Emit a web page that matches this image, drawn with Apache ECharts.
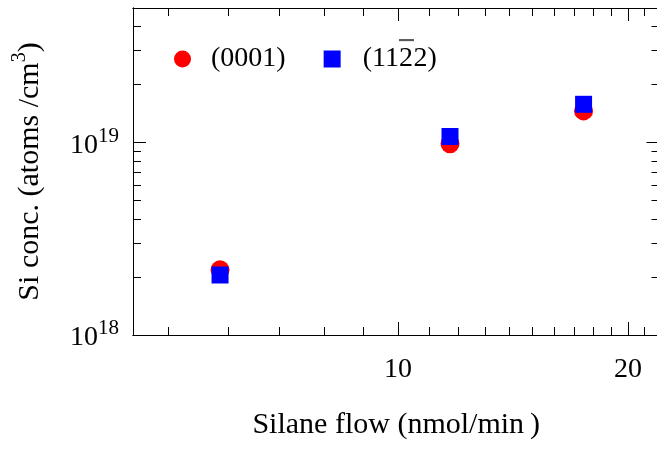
<!DOCTYPE html>
<html><head><meta charset="utf-8">
<script src="https://cdn.jsdelivr.net/npm/echarts@6/dist/echarts.min.js"></script>
<style>html,body{margin:0;padding:0;background:#fff}#c{width:657px;height:453px}</style>
</head><body><div id="c"></div>
<script>
// ---- data ----
const seriesNames = ['(0001)', '(112\u03052)'];
const flow0001 = [5.85, 11.7, 17.5];
const conc0001 = [2.18e18, 9.85e18, 1.46e19];
const flow1122 = [5.85, 11.7, 17.5];
const conc1122 = [2.05e18, 1.075e19, 1.58e19];
const xRange = [4.5, 22];
const yRange = [1e18, 5e19];
const xMajorTicks = [10, 20];
const xMinorTicks = [5, 6, 7, 8, 9, 11, 12, 13, 14, 15, 16, 17, 18, 19, 21];
const yMajorTicks = [1e18, 1e19];
const yMinorTicks = [2e18, 3e18, 4e18, 5e18, 6e18, 7e18, 8e18, 9e18, 2e19, 3e19, 4e19];
const xTitle = 'Silane flow (nmol/min\u2009)';
const yTitleMain = 'Si conc. (atoms /cm';
const yTitleSup = '3';

// ---- chart ----
const L = Math.log10;
const FONT = 'Liberation Serif';
const chart = echarts.init(document.getElementById('c'), null, {renderer: 'canvas'});

// overline decoration used for the Miller-Bravais bar (combining U+0305 in the names)
const BAR_PAD = 12;
const barCanvas = document.createElement('canvas');
barCanvas.width = 16; barCanvas.height = 57;
(function () {
  const g = barCanvas.getContext('2d');
  g.fillStyle = '#000';
  g.fillRect(0, 7, 16, 1.5);
})();

function auxX(pos, ticks, len, withLabels) {
  const a = {
    type: 'value', gridIndex: 0, position: pos,
    min: L(xRange[0]), max: L(xRange[1]),
    axisLine: {show: true, onZero: false, lineStyle: {color: '#000', width: 1}},
    axisTick: {show: true, inside: true, length: len, customValues: ticks.map(L), lineStyle: {color: '#000', width: 1}},
    axisLabel: {show: false},
    splitLine: {show: false}
  };
  if (withLabels) {
    a.axisLabel = {show: true, customValues: ticks.map(L), margin: 21,
      formatter: v => String(Math.round(Math.pow(10, v))),
      fontFamily: FONT, fontSize: 28, color: '#000'};
    a.name = xTitle;
    a.nameLocation = 'middle';
    a.nameGap = 75;
    a.nameTextStyle = {fontFamily: FONT, fontSize: 30, color: '#000'};
  }
  return a;
}
function auxY(pos, ticks, len, withLabels) {
  const a = {
    type: 'value', gridIndex: 0, position: pos,
    min: L(yRange[0]), max: L(yRange[1]),
    axisLine: {show: true, onZero: false, lineStyle: {color: '#000', width: 1}},
    axisTick: {show: true, inside: true, length: len, customValues: ticks.map(L), lineStyle: {color: '#000', width: 1}},
    axisLabel: {show: false},
    splitLine: {show: false}
  };
  if (withLabels) {
    a.axisLabel = {show: true, customValues: ticks.map(L), margin: 14,
      formatter: v => '{b|10}{s|' + Math.round(v) + '}',
      rich: {
        b: {fontFamily: FONT, fontSize: 28, color: '#000', lineHeight: 34, verticalAlign: 'bottom'},
        s: {fontFamily: FONT, fontSize: 21, color: '#000', lineHeight: 20, verticalAlign: 'top'}
      }};
    a.name = '{n|' + yTitleMain + '}{s|' + yTitleSup + '}{n|)}';
    a.nameLocation = 'middle';
    a.nameGap = 88;
    a.nameTextStyle = {rich: {
      n: {fontFamily: FONT, fontSize: 30, color: '#000', lineHeight: 35, verticalAlign: 'bottom'},
      s: {fontFamily: FONT, fontSize: 20, color: '#000', lineHeight: 20, verticalAlign: 'top'}
    }};
  }
  return a;
}

const legendRich = {
  a: {fontFamily: FONT, fontSize: 28, color: '#000', lineHeight: 62},
  o: {fontFamily: FONT, fontSize: 28, color: '#000', lineHeight: 62,
      padding: [BAR_PAD, 0, BAR_PAD, 0],
      backgroundColor: {image: barCanvas}}
};

const option = {
  backgroundColor: '#fff',
  animation: false,
  grid: {left: 133, top: 8, width: 526.5, height: 327, containLabel: false, outerBoundsMode: 'none'},
  legend: {
    left: 174, top: 33, padding: 0, itemWidth: 17, itemHeight: 17, itemGap: 38,
    formatter: n => '{a|' + n.replace(/(.)\u0305/g, '}{o|$1}{a|') + '}',
    textStyle: {padding: [0, 0, 0, 15], rich: legendRich},
    data: [
      {name: seriesNames[0], icon: 'circle'},
      {name: seriesNames[1], icon: 'rect', textStyle: {padding: [0, 0, 0, 17], rich: legendRich}}
    ]
  },
  xAxis: [
    {type: 'log', logBase: 10, min: xRange[0], max: xRange[1], show: false, gridIndex: 0},
    auxX('bottom', xMinorTicks, 8, false),
    auxX('bottom', xMajorTicks, 13, true),
    auxX('top', xMinorTicks, 8, false),
    auxX('top', xMajorTicks, 13, false)
  ],
  yAxis: [
    {type: 'log', logBase: 10, min: yRange[0], max: yRange[1], show: false, gridIndex: 0},
    auxY('left', yMinorTicks, 8, false),
    auxY('left', yMajorTicks, 13, true),
    auxY('right', yMinorTicks, 8, false),
    auxY('right', yMajorTicks, 13, false)
  ],
  series: [
    {name: seriesNames[0], type: 'scatter', xAxisIndex: 0, yAxisIndex: 0,
     symbol: 'circle', symbolSize: 19, itemStyle: {color: '#ff0000', opacity: 1},
     data: flow0001.map((x, i) => [x, conc0001[i]])},
    {name: seriesNames[1], type: 'scatter', xAxisIndex: 0, yAxisIndex: 0,
     symbol: 'rect', symbolSize: 17, itemStyle: {color: '#0000ff', opacity: 1},
     data: flow1122.map((x, i) => [x, conc1122[i]])}
  ]
};
chart.setOption(option);
</script>
</body></html>
